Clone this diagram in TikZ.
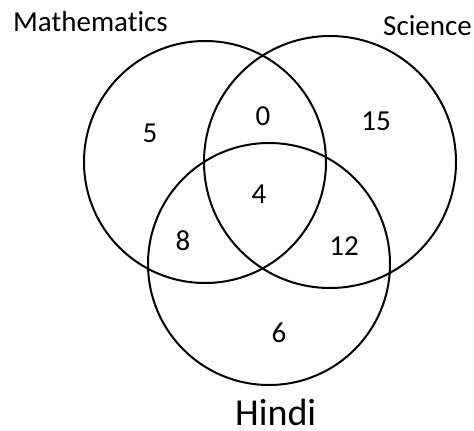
\documentclass[tikz,border=0pt]{standalone}
\usepackage{fontspec}
\setmainfont{Carlito}[Ligatures=NoCommon]
\usepackage{tikz}

\begin{document}
\begin{tikzpicture}[
  x=1pt, y=-1pt,
  set/.style={
    draw,
    circle,
    line width=2pt,
    inner sep=0pt
  },
  num/.style={inner sep=0pt, anchor=base, font=\fontsize{29}{32}\selectfont},
  lbl/.style={inner sep=0pt, anchor=base west, font=\fontsize{29}{32}\selectfont}
]
  \useasboundingbox (0,0) rectangle (474,431);

  \node[set, minimum size=242pt] (math) at (205,162) {};
  \node[set, minimum size=252pt] (sci) at (330,162) {};
  \node[set, minimum size=242pt] (hindi) at (269,264) {};

  \node[lbl] (mathlbl) at (13,31) {Mathematics};
  \node[lbl] (scilbl) at (383,35) {Science};
  \node[lbl, font=\fontsize{38}{40}\selectfont] (hindilbl) at (235,425) {Hindi};

  \node[num] (onlymath) at (150,142) {5};
  \node[num] (mathsci) at (263,125) {0};
  \node[num] (onlysci) at (376,130) {15};
  \node[num] (all) at (259,203) {4};
  \node[num] (mathhindi) at (183,250) {8};
  \node[num] (scihindi) at (344,255) {12};
  \node[num] (onlyhindi) at (279,342) {6};
\end{tikzpicture}
\end{document}
